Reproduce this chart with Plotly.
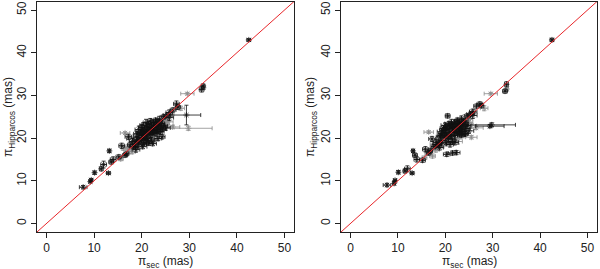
import plotly.graph_objects as go

# ---------------- data ----------------
x_sparse = [42.5, 32.9, 32.6, 33.0, 29.6, 27.3, 27.6, 28.2, 29.4, 29.8,
            26.5, 25.5, 24.3, 22.0, 21.5, 20.3, 22.3, 16.5,
            17.2, 15.8, 16.2, 13.2, 14.0, 13.6, 15.2, 15.6, 12.0, 11.5,
            10.1, 13.0, 9.4, 9.2, 7.7, 16.8, 17.3, 25.8, 26.6, 24.8]
ex_sparse = [0.4, 0.4, 0.5, 0.3, 1.4, 0.6, 0.5, 0.8, 3.0, 5.0,
             1.5, 1.2, 0.6, 0.8, 0.9, 0.7, 0.8, 1.0,
             0.7, 0.6, 0.5, 0.3, 0.6, 0.5, 0.6, 0.5, 0.6, 0.4,
             0.3, 0.4, 0.3, 0.3, 0.8, 0.5, 0.6, 0.7, 0.6, 0.5]
yL_sparse = [43.0, 32.2, 31.4, 31.8, 30.4, 28.0, 27.3, 27.0, 25.4, 22.3,
             22.6, 22.8, 20.3, 19.5, 18.8, 18.6, 18.7, 21.2,
             20.3, 18.2, 17.6, 17.0, 15.0, 14.4, 15.6, 15.1, 13.8, 12.8,
             11.9, 11.8, 10.2, 9.8, 8.5, 16.3, 16.8, 26.0, 26.6, 24.6]
eyL_sparse = [0.3, 0.5, 0.6, 0.4, 0.3, 0.7, 0.6, 0.5, 2.3, 0.5,
              0.4, 0.4, 0.5, 0.6, 0.5, 0.4, 0.5, 0.3,
              0.6, 0.6, 0.5, 0.4, 0.6, 0.5, 0.5, 0.4, 0.8, 0.5,
              0.4, 0.3, 0.3, 0.3, 0.4, 0.5, 0.5, 0.6, 0.5, 0.5]
yR_sparse = [43.0, 32.6, 31.0, 31.5, 30.4, 28.0, 27.6, 27.0, 22.8, 23.1,
             22.4, 20.2, 21.0, 19.0, 16.5, 16.2, 16.6, 21.4,
             19.8, 17.4, 16.6, 17.0, 15.0, 16.0, 14.8, 15.4, 12.8, 12.3,
             12.0, 11.8, 10.1, 9.4, 9.0, 17.0, 15.8, 26.2, 27.5, 24.4]
eyR_sparse = [0.4, 0.6, 0.5, 0.5, 0.3, 0.5, 0.5, 0.6, 0.4, 0.5,
              0.4, 0.4, 0.5, 0.6, 0.5, 0.5, 0.5, 0.3,
              0.6, 0.6, 0.5, 0.4, 0.6, 0.5, 0.5, 0.4, 0.7, 0.5,
              0.4, 0.3, 0.3, 0.4, 0.4, 0.5, 0.5, 0.6, 0.5, 0.5]
gL_sparse = [0, 0, 0, 1, 1, 0, 0, 1, 0, 1,
             1, 1, 0, 0, 0, 0, 0, 1,
             0, 0, 1, 0, 0, 0, 0, 1, 0, 0,
             0, 0, 0, 0, 0, 0, 1, 0, 0, 1]
gR_sparse = [0, 0, 0, 1, 1, 0, 0, 1, 0, 0,
             1, 1, 0, 0, 0, 0, 0, 1,
             0, 0, 1, 0, 0, 0, 0, 1, 0, 0,
             0, 0, 0, 0, 0, 0, 1, 0, 0, 1]

x_cluster = [17.6, 17.9, 18.1, 18.3, 18.4, 18.6, 18.7, 18.9,
             19.0, 19.1, 19.2, 19.3, 19.4, 19.5, 19.6, 19.7, 19.8, 19.9,
             20.0, 20.0, 20.1, 20.2, 20.3, 20.4, 20.5, 20.6, 20.7, 20.8, 20.9,
             21.0, 21.0, 21.1, 21.2, 21.3, 21.4, 21.5, 21.5, 21.6, 21.7, 21.8, 21.9,
             22.0, 22.0, 22.1, 22.2, 22.3, 22.4, 22.5, 22.5, 22.6, 22.7, 22.8, 22.9,
             23.0, 23.0, 23.1, 23.2, 23.3, 23.4, 23.5, 23.6, 23.7, 23.8, 23.9,
             24.0, 24.1, 24.2, 24.3, 24.5, 24.6, 24.7, 24.9,
             25.0, 25.1, 25.3, 25.5, 25.8,
             26.0,
             18.0, 18.8, 19.5, 20.2, 21.0, 22.6, 23.4, 17.0, 16.5, 17.5]
ex_cluster = [0.6, 0.8, 0.7, 0.9, 0.6, 0.7, 0.5, 0.8,
              0.7, 0.6, 0.9, 0.7, 0.8, 0.6, 0.7, 0.9, 0.6, 0.8,
              0.7, 0.9, 0.6, 0.8, 0.7, 0.6, 0.5, 0.8, 0.7, 0.9, 0.6,
              0.8, 0.7, 0.6, 0.9, 0.7, 0.8, 0.6, 0.7, 0.9, 0.8, 0.6, 0.7,
              0.8, 0.6, 0.9, 0.7, 0.8, 0.7, 0.6, 0.9, 0.8, 0.7, 0.6, 0.8,
              0.9, 0.7, 0.6, 0.8, 0.7, 0.9, 0.6, 0.8, 0.7, 0.6, 0.9,
              0.7, 0.8, 0.6, 0.9, 0.7, 0.8, 0.6, 0.9,
              1.0, 0.7, 0.8, 1.1, 0.9,
              0.8,
              0.7, 0.8, 0.6, 0.9, 0.7, 1.0, 0.8, 0.6, 0.5, 0.7]
yL_cluster = [18.4, 17.5, 19.2, 18.0, 20.1, 18.8, 17.9, 19.6,
              21.0, 18.5, 20.2, 19.1, 22.0, 20.6, 19.4, 21.4, 18.9, 20.0,
              22.5, 21.2, 19.8, 20.7, 23.0, 21.6, 20.2, 22.2, 19.5, 21.0, 23.6,
              22.0, 20.5, 21.4, 19.9, 22.6, 21.1, 23.2, 20.8, 22.0, 21.5, 24.0, 20.9,
              22.4, 21.7, 23.1, 20.6, 22.0, 21.3, 23.6, 22.5, 21.0, 22.9, 21.8, 24.2,
              22.6, 21.2, 23.3, 22.0, 20.8, 23.8, 22.8, 21.6, 24.3, 22.3, 23.0,
              21.5, 24.6, 23.4, 22.1, 24.0, 22.8, 25.0, 23.5,
              22.4, 24.3, 25.4, 23.8, 24.8,
              25.6,
              16.8, 17.3, 18.2, 18.0, 19.0, 19.6, 19.9, 17.8, 16.0, 19.8]
yR_cluster = [18.0, 17.8, 19.0, 18.5, 19.6, 18.3, 18.9, 20.3,
              20.6, 19.0, 21.5, 19.4, 21.0, 20.1, 22.3, 21.8, 19.2, 20.7,
              22.0, 23.0, 19.0, 21.3, 22.6, 20.4, 25.2, 21.7, 19.9, 23.4, 22.2,
              20.9, 21.5, 22.8, 20.3, 23.6, 21.0, 22.4, 19.2, 23.0, 21.8, 22.6, 20.6,
              23.8, 21.3, 22.1, 19.8, 23.3, 21.6, 24.0, 22.7, 20.8, 23.5, 21.4, 22.9,
              24.2, 21.0, 22.3, 23.0, 20.4, 24.5, 22.0, 21.5, 23.6, 22.6, 24.0,
              21.0, 24.8, 23.2, 22.2, 24.5, 22.9, 25.2, 23.7,
              21.7, 24.4, 25.6, 22.9, 25.3,
              26.1,
              17.2, 17.8, 18.4, 18.9, 18.5, 19.2, 20.7, 17.3, 16.5, 18.6]
ey_cluster = [0.5, 0.6, 0.7, 0.5, 0.8, 0.6, 0.5, 0.7,
              0.6, 0.5, 0.7, 0.6, 0.8, 0.5, 0.6, 0.7, 0.5, 0.6,
              0.7, 0.6, 0.5, 0.8, 0.6, 0.7, 0.5, 0.6, 0.7, 0.5, 0.8,
              0.6, 0.7, 0.5, 0.6, 0.8, 0.5, 0.7, 0.6, 0.5, 0.7, 0.6, 0.8,
              0.5, 0.7, 0.6, 0.8, 0.5, 0.6, 0.7, 0.5, 0.6, 0.8, 0.7, 0.5,
              0.6, 0.7, 0.5, 0.8, 0.6, 0.7, 0.5, 0.6, 0.8, 0.7, 0.5,
              0.6, 0.7, 0.8, 0.5, 0.6, 0.7, 0.5, 0.8,
              0.6, 0.7, 0.5, 0.6, 0.7,
              0.6,
              0.5, 0.6, 0.7, 0.5, 0.6, 0.7, 0.5, 0.6, 0.5, 0.7]
g_cluster = [0, 1, 0, 0, 1, 0, 0, 0,
             0, 1, 0, 0, 0, 1, 0, 0, 1, 0,
             0, 0, 1, 0, 0, 0, 0, 1, 0, 0, 0,
             0, 1, 0, 0, 0, 1, 0, 0, 0, 1, 0, 0,
             0, 0, 0, 1, 0, 0, 0, 0, 1, 0, 0, 0,
             1, 0, 0, 0, 1, 0, 0, 0, 0, 1, 0,
             0, 1, 0, 0, 1, 0, 0, 1,
             0, 1, 0, 1, 0,
             1,
             1, 0, 1, 0, 0, 1, 0, 1, 0, 1]

tick_vals = [0, 10, 20, 30, 40, 50]
x_title = "π<sub>sec</sub> (mas)"
y_title = "π<sub>Hipparcos</sub> (mas)"

# ---------------- figure ----------------
FONT = "Liberation Sans, Arial, sans-serif"
BLACK = "#111111"
GRAY = "#8c8c8c"

fig = go.Figure()

panels = [
    ("x", "y", yL_sparse, eyL_sparse, gL_sparse, yL_cluster),
    ("x2", "y2", yR_sparse, eyR_sparse, gR_sparse, yR_cluster),
]

for xa, ya, ys, eys, gs, yc in panels:
    xs_all = x_sparse + x_cluster
    ex_all = ex_sparse + ex_cluster
    y_all = ys + yc
    ey_all = eys + ey_cluster
    g_all = gs + g_cluster
    for flag, col in ((1, GRAY), (0, BLACK)):
        idx = [i for i, g in enumerate(g_all) if g == flag]
        fig.add_trace(go.Scatter(
            x=[xs_all[i] for i in idx],
            y=[y_all[i] for i in idx],
            mode="markers",
            marker=dict(symbol="asterisk-open", size=5, color=col,
                        line=dict(color=col, width=0.7)),
            error_x=dict(type="data", array=[ex_all[i] for i in idx],
                         color=col, thickness=0.8, width=2),
            error_y=dict(type="data", array=[ey_all[i] for i in idx],
                         color=col, thickness=0.8, width=2),
            xaxis=xa, yaxis=ya, showlegend=False, hoverinfo="skip",
        ))
    fig.add_trace(go.Scatter(
        x=[-2, 52], y=[-2, 52], mode="lines",
        line=dict(color="#e8262a", width=1),
        xaxis=xa, yaxis=ya, showlegend=False, hoverinfo="skip",
    ))

axis_common = dict(range=[-2, 52], tickvals=tick_vals, ticks="outside",
                   ticklen=5, tickwidth=1, tickcolor="#222",
                   showline=True, linecolor="#222", linewidth=1, mirror=True,
                   showgrid=False, zeroline=False,
                   tickfont=dict(family=FONT, size=12, color="#222"))

ydom = [1 - 232 / 269, 1 - 1.5 / 269]
fig.update_layout(
    width=600, height=269,
    margin=dict(l=0, r=0, t=0, b=0),
    paper_bgcolor="white", plot_bgcolor="white",
    xaxis=dict(domain=[37 / 600, 294 / 600], anchor="y", **axis_common),
    yaxis=dict(domain=ydom, anchor="x", tickangle=-90, **axis_common),
    xaxis2=dict(domain=[341 / 600, 597 / 600], anchor="y2", **axis_common),
    yaxis2=dict(domain=ydom, anchor="x2", tickangle=-90, **axis_common),
)

ann_font = dict(family=FONT, size=12, color="#222")
annots = [
    dict(x=165.5 / 600, y=1 - 262 / 269, text=x_title),
    dict(x=469 / 600, y=1 - 262 / 269, text=x_title),
    dict(x=9 / 600, y=1 - 117 / 269, text=y_title, textangle=-90),
    dict(x=311 / 600, y=1 - 117 / 269, text=y_title, textangle=-90),
]
for a in annots:
    fig.add_annotation(xref="paper", yref="paper", showarrow=False,
                       xanchor="center", yanchor="middle", font=ann_font, **a)

fig.write_html("out.html", config={"displayModeBar": False},
               post_script="document.body.style.margin='0';document.body.style.overflow='hidden';")
